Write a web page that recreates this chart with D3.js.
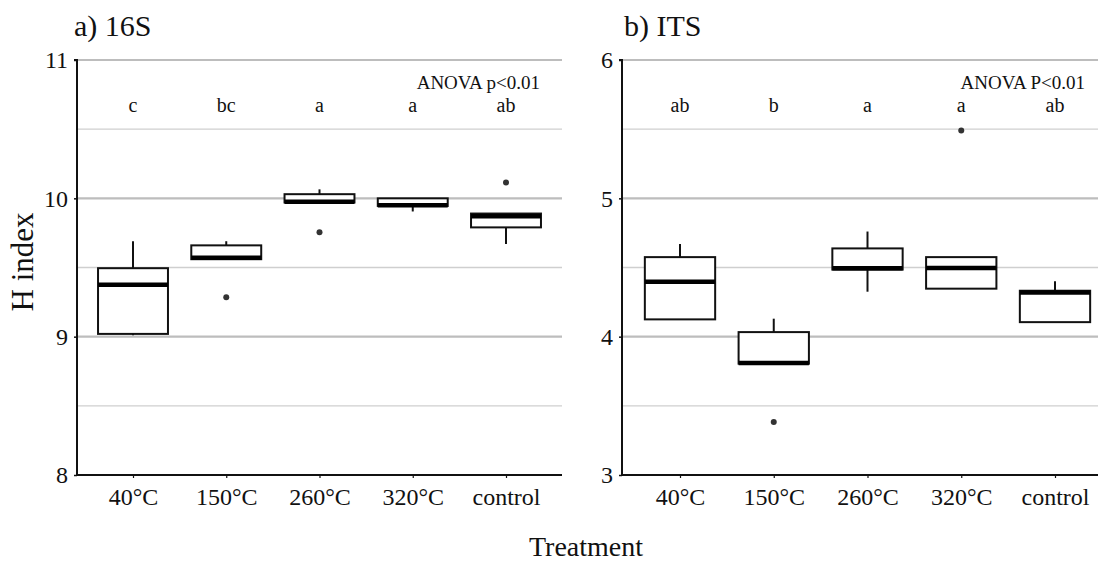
<!DOCTYPE html>
<html>
<head>
<meta charset="utf-8">
<script src="https://cdn.jsdelivr.net/npm/d3@7"></script>
<style>
  html, body { margin: 0; padding: 0; background: #fff; }
  svg { display: block; }
  text { font-family: "Liberation Serif", "Times New Roman", serif; fill: #111; }
</style>
</head>
<body>
<svg id="chart" width="1098" height="563"></svg>
<script>
// ---------- data ----------
const categories = ["40°C", "150°C", "260°C", "320°C", "control"];

// a) 16S
const s16Title = "a) 16S";
const s16Anova = "ANOVA p<0.01";
const s16Letters = ["c", "bc", "a", "a", "ab"];
const s16WhiskerLow = [9.01, 9.56, 9.97, 9.905, 9.67];
const s16Q1 = [9.02, 9.56, 9.97, 9.945, 9.79];
const s16Median = [9.375, 9.57, 9.975, 9.95, 9.87];
const s16Q3 = [9.495, 9.66, 10.03, 10.0, 9.89];
const s16WhiskerHigh = [9.69, 9.69, 10.065, 10.0, 9.89];
const s16Outliers = [[], [9.285], [9.755], [], [10.115]];
const s16Ticks = [8, 9, 10, 11];
const s16Domain = [8, 11];

// b) ITS
const itsTitle = "b) ITS";
const itsAnova = "ANOVA P<0.01";
const itsLetters = ["ab", "b", "a", "a", "ab"];
const itsWhiskerLow = [4.125, 3.805, 4.325, 4.347, 4.105];
const itsQ1 = [4.125, 3.805, 4.485, 4.347, 4.105];
const itsMedian = [4.397, 3.81, 4.495, 4.497, 4.32];
const itsQ3 = [4.575, 4.033, 4.638, 4.575, 4.332];
const itsWhiskerHigh = [4.67, 4.13, 4.76, 4.575, 4.40];
const itsOutliers = [[], [3.383], [], [5.49], []];
const itsTicks = [3, 4, 5, 6];
const itsDomain = [3, 6];

const yLabel = "H index";
const xLabel = "Treatment";

// ---------- drawing ----------
const svg = d3.select("#chart");

function panel(cfg) {
  const g = svg.append("g");
  const x = d3.scalePoint().domain(categories).range(cfg.xRange);
  const y = d3.scaleLinear().domain(cfg.domain).range([475, 60]);
  const step = x.step();
  const boxW = step * 0.75;

  // grid lines at every 0.5
  const grid = d3.range(cfg.domain[0] + 0.5, cfg.domain[1] + 0.001, 0.5);
  g.selectAll(".grid").data(grid).join("line")
    .attr("x1", cfg.left + 1).attr("x2", cfg.right)
    .attr("y1", d => y(d)).attr("y2", d => y(d))
    .attr("stroke", d => Number.isInteger(d) ? "#bdbdbd" : "#cfcfcf")
    .attr("stroke-width", d => Number.isInteger(d) ? 2.2 : 1.3);

  // axes
  const yAxis = d3.axisLeft(y).tickValues(cfg.ticks).tickFormat(d3.format("d")).tickSize(3).tickPadding(6);
  const ya = g.append("g").attr("transform", `translate(${cfg.left},0)`).call(yAxis);
  ya.select(".domain").attr("d", `M-3,${y(cfg.domain[1])}H0V${y(cfg.domain[0])}`).attr("stroke", "#111").attr("stroke-width", 2);
  ya.selectAll(".tick line").attr("stroke", "#111").attr("stroke-width", 1.5);
  ya.selectAll(".tick text").style("font-size", "24px").style("font-family", "Liberation Serif").attr("fill", "#111");

  const xAxis = d3.axisBottom(x).tickSize(3).tickPadding(10);
  const xa = g.append("g").attr("transform", `translate(0,475)`).call(xAxis);
  xa.select(".domain").attr("d", `M${cfg.left},0H${cfg.right}`).attr("stroke", "#111").attr("stroke-width", 2);
  xa.selectAll(".tick line").attr("stroke", "#111").attr("stroke-width", 1.2);
  xa.selectAll(".tick text").style("font-size", "24px").style("font-family", "Liberation Serif").attr("fill", "#111");

  // whiskers
  g.selectAll(".whisk").data(categories).join("line")
    .attr("x1", d => x(d)).attr("x2", d => x(d))
    .attr("y1", (d, i) => y(cfg.wLow[i])).attr("y2", (d, i) => y(cfg.wHigh[i]))
    .attr("stroke", "#111").attr("stroke-width", 2);

  // boxes
  g.selectAll(".box").data(categories).join("rect")
    .attr("x", d => x(d) - boxW / 2).attr("width", boxW)
    .attr("y", (d, i) => y(cfg.q3[i]))
    .attr("height", (d, i) => Math.max(1, y(cfg.q1[i]) - y(cfg.q3[i])))
    .attr("fill", "#fff").attr("stroke", "#111").attr("stroke-width", 2);

  // medians
  g.selectAll(".med").data(categories).join("line")
    .attr("x1", d => x(d) - boxW / 2).attr("x2", d => x(d) + boxW / 2)
    .attr("y1", (d, i) => y(cfg.median[i])).attr("y2", (d, i) => y(cfg.median[i]))
    .attr("stroke", "#000").attr("stroke-width", 4.5);

  // outliers
  const outs = [];
  cfg.outliers.forEach((arr, i) => arr.forEach(v => outs.push({ c: categories[i], v })));
  g.selectAll(".out").data(outs).join("circle")
    .attr("cx", d => x(d.c)).attr("cy", d => y(d.v)).attr("r", 3)
    .attr("fill", "#333");

  // significance letters
  g.selectAll(".let").data(categories).join("text")
    .attr("x", d => x(d)).attr("y", 112)
    .attr("text-anchor", "middle").style("font-size", "20px")
    .text((d, i) => cfg.letters[i]);

  // ANOVA label
  g.append("text").attr("x", cfg.right - 22).attr("y", 89)
    .attr("text-anchor", "end").style("font-size", "19px")
    .text(cfg.anova);

  // panel title
  g.append("text").attr("x", cfg.titleX).attr("y", 36)
    .style("font-size", "30px").text(cfg.title);
}

panel({
  left: 77, right: 562, xRange: [133, 506], domain: s16Domain, ticks: s16Ticks,
  wLow: s16WhiskerLow, q1: s16Q1, median: s16Median, q3: s16Q3, wHigh: s16WhiskerHigh,
  outliers: s16Outliers, letters: s16Letters, anova: s16Anova, title: s16Title, titleX: 74
});
panel({
  left: 622, right: 1107, xRange: [680, 1055], domain: itsDomain, ticks: itsTicks,
  wLow: itsWhiskerLow, q1: itsQ1, median: itsMedian, q3: itsQ3, wHigh: itsWhiskerHigh,
  outliers: itsOutliers, letters: itsLetters, anova: itsAnova, title: itsTitle, titleX: 624
});

// shared axis titles
svg.append("text").attr("transform", "translate(33,262) rotate(-90)")
  .attr("text-anchor", "middle").style("font-size", "31px").text(yLabel);
svg.append("text").attr("x", 586).attr("y", 556)
  .attr("text-anchor", "middle").style("font-size", "28px").text(xLabel);
</script>
</body>
</html>
